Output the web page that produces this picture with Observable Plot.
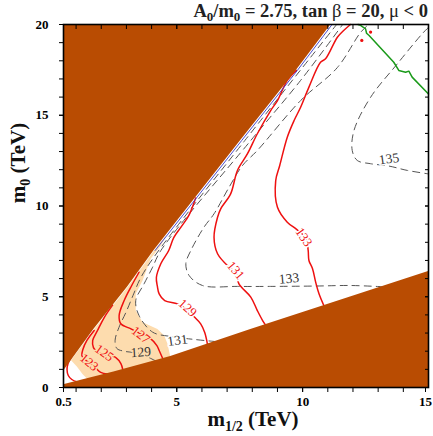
<!DOCTYPE html>
<html><head><meta charset="utf-8">
<script src="https://cdn.jsdelivr.net/npm/d3@7"></script>
<script src="https://cdn.jsdelivr.net/npm/@observablehq/plot@0.6"></script>
<style>body{margin:0;background:#fff}</style>
</head><body><div id="chart"></div>
<script>
// ---- data (m1/2 in TeV, m0 in TeV) ----
const xMajorTicks = [0.5, 5, 10, 15];
const xMinorTicks = [1,2,3,4,5,6,7,8,9,10,11,12,13,14];
const yMajorTicks = [0, 5, 10, 15, 20];
const yMinorTicks = [1,2,3,4,5,6,7,8,9,10,11,12,13,14,15,16,17,18,19];

const brownUpperEdge = [[0.5,0.9],[1.72,3.23],[3.04,5.53],[4.1,7.55],[7.54,13.61],[9.75,17.47],[11.13,20]];
const brownLowerEdge = [[0.5,0.15],[2.5,0.85],[4.76,1.71],[7.94,3.2],[11.9,4.98],[15,6.39]];
const peachRegion = [[0.8,1.5],[1.72,3.23],[3.04,5.53],[4.1,7.55],[4.6,8.43],[4.37,7.82],[3.97,7.11],[3.64,5.9],
  [3.37,5.16],[3.37,4.24],[3.64,3.6],[4.23,3.23],[4.5,2.87],[4.63,2.41],[4.76,1.6],[2.5,0.75],[1.5,0.4],[1.27,0.72],[1.03,1.16],[0.8,1.5]];

const red121 = [[0.79,1.65],[0.68,1.32],[0.64,0.99],[0.69,0.66],[0.83,0.44],[1.05,0.3]];
const red123 = [[1.72,3.14],[1.43,2.59],[1.27,2.09],[1.23,1.76],[1.35,1.54],[1.71,1.16],[1.98,0.83],[2.25,0.74]];
const red125 = [[2.45,4.54],[2.14,3.91],[1.85,3.14],[1.66,2.59],[1.69,2.2],[1.87,1.93],[2.12,1.82],[2.58,1.65],[2.78,1.31],[2.86,0.96]];
const red127 = [[3.5,6.35],[3.21,5.62],[2.91,4.79],[2.71,3.97],[2.78,3.51],[3.18,3.23],[3.57,2.96],[3.97,2.68],[4.21,2.31],[4.3,2.04],[4.45,1.57]];
const red129 = [[5.75,10.44],[5.48,9.48],[5.16,8.82],[4.88,8.26],[4.68,7.55],[4.37,6.83],[4.19,6.06],[4.23,5.57],[4.3,5.16],
  [4.52,4.79],[5.03,4.61],[5.36,4.34],[5.68,3.91],[5.95,3.51],[6.11,3.03],[6.22,2.38]];
const red131 = [[9.75,17.47],[9.39,16.92],[9.0,15.81],[8.73,15.26],[8.2,13.98],[7.81,12.88],[7.41,11.96],[7.14,10.67],[6.75,9.86],
  [6.62,9.38],[6.48,8.28],[6.62,7.37],[7.08,6.63],[7.34,6.34],[7.47,5.71],[7.94,4.98],[8.2,4.24],[8.41,3.69],[8.53,3.44]];
const red133 = [[11.9,20],[11.63,19.67],[11.38,19.3],[10.91,18.11],[10.71,17.92],[10.25,16.55],[9.92,15.44],[9.66,14.71],[9.39,13.79],
  [9.09,12.23],[8.93,11.4],[9.0,9.93],[9.39,9.11],[9.76,8.71],[10.12,8.26],[10.22,7.55],[10.25,7.0],[10.39,6.56],[10.52,5.79],[10.65,5.16],[10.85,4.49]];
const redDots = [[12.35,19.12],[12.7,19.58]];

const dash129 = [[4.17,1.46],[3.49,1.88],[2.9,2.0],[2.62,2.15],[2.55,2.6],[2.7,3.3],[3.0,4.2],[3.3,5.2],[3.55,6.0],[4.1,7.2],[7.7,13.6],[11.35,20]];
const dash131 = [[6.55,2.53],[5.68,2.65],[4.76,2.81],[4.04,3.05],[3.5,3.97],[3.37,4.79],[3.7,5.71],[4.04,6.63],[4.37,7.55],[7.94,13.61],[9.92,16.92],[11.59,20]];
const dash133 = [[13.2,5.55],[11.9,5.62],[10.52,5.59],[8.73,5.57],[7.41,5.57],[6.02,5.62],[5.49,6.17],[5.36,6.82],[5.56,7.55],[6.08,8.83],
  [6.48,9.57],[7.08,11.04],[7.61,12.23],[8.2,13.06],[9.92,15.81],[11.38,17.63],[12.3,19.56],[12.62,20]];
const dash135 = [[14.99,19.83],[14.75,19.49],[13.76,17.83],[12.7,15.99],[12.04,14.16],[11.97,13.06],[12.17,12.51],[12.7,12.33],[13.43,12.2],[14.16,11.96],[14.99,11.77]];

const greenLine = [[12.2,20],[12.3,19.95],[12.5,19.76],[12.54,19.52],[12.64,19.39],[13.62,17.92],[13.82,17.47],[14.09,17.37],[14.22,17.43],[14.35,17.1],[15,16.17]];

const redLabelText = ["123","125","127","129","131","133"];
const redLabelX = [1.52, 2.12, 3.57, 5.43, 7.34, 10.05];
const redLabelY = [1.39, 1.9, 2.9, 4.38, 6.45, 8.28];
const dashLabelText = ["129","131","133","135"];
const dashLabelX = [3.57, 5.03, 9.46, 13.43];
const dashLabelY = [1.95, 2.6, 6.0, 12.6];

// ---- styling ----
const BROWN = "#b94c02", PEACH = "#fddcae", RED = "#ee1010", GREY = "#555", GREEN = "#1a9a1a";
const FONT = "Liberation Serif, Times New Roman, serif";
const redAngles = [40, 35, 38, 42, 50, 55];
const dashAngles = [-4, -8, -5, -8];
const inPeach = (i) => i < 3;

const pts = a => a.map(([x, y]) => ({x, y}));
const redSets = [red121, red123, red125, red127, red129, red131, red133];
const dashSets = [dash129, dash131, dash133, dash135];
const redLabels = redLabelText.map((t, i) => ({t, x: redLabelX[i], y: redLabelY[i], a: redAngles[i], h: inPeach(i) ? PEACH : "white"}));
const dashLabels = dashLabelText.map((t, i) => ({t, x: dashLabelX[i], y: dashLabelY[i], a: dashAngles[i], h: i === 0 ? PEACH : "white"}));
const blank = () => "";
const xLabelOpts = {anchor: "bottom", tickSize: 5, tickPadding: 4, tickFormat: d => String(d), fontWeight: "bold", fontSize: 13, fontFamily: FONT, label: null};

const plot = Plot.plot({
  width: 433, height: 436,
  marginLeft: 63, marginRight: 5, marginTop: 24, marginBottom: 49,
  x: {domain: [0.5, 15], label: null},
  y: {domain: [0, 20], label: null},
  style: {fontFamily: FONT, background: "white"},
  marks: [
    Plot.line(pts(peachRegion), {x: "x", y: "y", fill: PEACH, stroke: "none"}),
    ...dashSets.map(s => Plot.line(pts(s), {x: "x", y: "y", stroke: GREY, strokeWidth: 1, strokeDasharray: "7,5", curve: "catmull-rom"})),
    ...redSets.map(s => Plot.line(pts(s), {x: "x", y: "y", stroke: RED, strokeWidth: 1.5, curve: "catmull-rom"})),
    Plot.line(pts(greenLine), {x: "x", y: "y", stroke: GREEN, strokeWidth: 1.5}),
    Plot.areaY(pts(brownUpperEdge), {x: "x", y1: "y", y2: 20, fill: BROWN}),
    Plot.areaY(pts(brownLowerEdge), {x: "x", y1: 0, y2: "y", fill: BROWN}),
    Plot.line(pts(brownUpperEdge).filter(d => d.y > 7), {x: "x", y: "y", stroke: "#3a3ac8", strokeWidth: 0.9, dx: 1}),
    Plot.dot(pts(redDots), {x: "x", y: "y", r: 1.6, fill: RED}),
    Plot.text(redLabels, {x: "x", y: "y", text: "t", rotate: "a", fill: RED, stroke: "h", strokeWidth: 3, fontSize: 13, fontFamily: FONT}),
    Plot.text(dashLabels, {x: "x", y: "y", text: "t", rotate: "a", fill: "#333", stroke: "h", strokeWidth: 3, fontSize: 13.5, fontFamily: FONT}),
    Plot.frame({stroke: "black", strokeWidth: 1.6}),
    Plot.axisX(xMinorTicks, {anchor: "bottom", tickSize: 5, tickFormat: blank, label: null}),
    Plot.axisX(xMajorTicks.slice(0, 3), xLabelOpts),
    Plot.axisX(xMajorTicks.slice(3), {...xLabelOpts, dx: -3}),
    Plot.axisX(xMinorTicks.concat([5,10]), {anchor: "top", tickSize: -4, tickFormat: blank, label: null}),
    Plot.axisY(yMinorTicks, {anchor: "left", tickSize: 4, tickFormat: blank, label: null}),
    Plot.axisY(yMajorTicks, {anchor: "left", tickSize: 4, tickPadding: 11, tickFormat: d => String(d), fontWeight: "bold", fontSize: 13, fontFamily: FONT, label: null}),
    Plot.axisY(yMinorTicks.concat(yMajorTicks), {anchor: "right", tickSize: -4, tickFormat: blank, label: null})
  ]
});

const svg = d3.select(plot);
// Title
const t = svg.append("text").attr("x", 428).attr("y", 16.5).attr("text-anchor", "end")
  .attr("font-family", FONT).attr("font-weight", "bold").attr("font-size", 18.5).attr("fill", "#222");
t.append("tspan").text("A");
t.append("tspan").attr("font-size", 13).attr("dy", 4).text("0");
t.append("tspan").attr("dy", -4).text("/m");
t.append("tspan").attr("font-size", 13).attr("dy", 4).text("0");
t.append("tspan").attr("dy", -4).text(" = 2.75, tan ");
t.append("tspan").attr("font-weight", "normal").text("β");
t.append("tspan").text(" = 20, ");
t.append("tspan").attr("font-weight", "normal").text("μ");
t.append("tspan").text(" < 0");
// x label
const xl = svg.append("text").attr("x", 253).attr("y", 426).attr("text-anchor", "middle")
  .attr("font-family", FONT).attr("font-weight", "bold").attr("font-size", 21).attr("fill", "#111");
xl.append("tspan").text("m");
xl.append("tspan").attr("font-size", 14).attr("dy", 5).text("1/2");
xl.append("tspan").attr("dy", -5).text(" (TeV)");
// y label
const yl = svg.append("text").attr("transform", "translate(25,163) rotate(-90)").attr("text-anchor", "middle")
  .attr("font-family", FONT).attr("font-weight", "bold").attr("font-size", 21).attr("fill", "#111");
yl.append("tspan").text("m");
yl.append("tspan").attr("font-size", 14).attr("dy", 5).text("0");
yl.append("tspan").attr("dy", -5).text(" (TeV)");

document.getElementById("chart").appendChild(plot);
</script>
</body></html>
